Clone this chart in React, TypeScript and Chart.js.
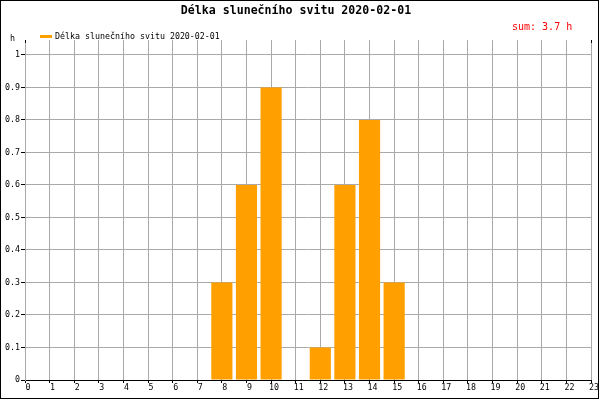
import React, { useEffect, useRef } from "react";
import { Chart, registerables } from "chart.js";

Chart.register(...registerables);

const chartTitle = "Délka slunečního svitu 2020-02-01";
const seriesLabel = "Délka slunečního svitu 2020-02-01";
const hours = [8, 9, 10, 12, 13, 14, 15];
const values = [0.3, 0.6, 0.9, 0.1, 0.6, 0.8, 0.3];
const sumText = "sum: 3.7 h";
const yUnit = "h";

const ORANGE = "#ffa000";
const GRID = "#aaaaaa";
const MONO = "'DejaVu Sans Mono', 'Liberation Mono', monospace";

const decorPlugin = {
  id: "decor",
  afterDraw(chart: any) {
    const ctx = chart.ctx as CanvasRenderingContext2D;
    const area = chart.chartArea;
    ctx.save();
    // border
    ctx.strokeStyle = "#000";
    ctx.lineWidth = 1;
    ctx.strokeRect(0.5, 0.5, 598, 398);
    // title
    ctx.fillStyle = "#000";
    ctx.font = `bold 11.6px ${MONO}`;
    ctx.textAlign = "center";
    ctx.textBaseline = "middle";
    ctx.fillText(chartTitle, 296, 11);
    // legend
    ctx.strokeStyle = ORANGE;
    ctx.lineWidth = 3;
    ctx.beginPath();
    ctx.moveTo(40, 36.5);
    ctx.lineTo(52, 36.5);
    ctx.stroke();
    ctx.fillStyle = "#000";
    ctx.font = `8.3px ${MONO}`;
    ctx.textAlign = "left";
    ctx.fillText(seriesLabel, 55, 36.5);
    // sum
    ctx.fillStyle = "#ff0000";
    ctx.font = `10px ${MONO}`;
    ctx.fillText(sumText, 512, 27);
    // unit
    ctx.fillStyle = "#000";
    ctx.font = `8.3px ${MONO}`;
    ctx.fillText(yUnit, 10, 38.5);
    // black stubs at axis tops
    ctx.strokeStyle = "#000";
    ctx.lineWidth = 1;
    ctx.beginPath();
    ctx.moveTo(Math.round(area.left) + 0.5, area.top);
    ctx.lineTo(Math.round(area.left) + 0.5, area.top + 3);
    ctx.moveTo(Math.round(area.right) + 0.5, area.top);
    ctx.lineTo(Math.round(area.right) + 0.5, area.top + 3);
    ctx.stroke();
    ctx.restore();
  },
};

export default function App() {
  const ref = useRef<HTMLCanvasElement | null>(null);
  useEffect(() => {
    document.body.style.margin = "0";
    if (!ref.current) return;
    const chart = new Chart(ref.current, {
      type: "bar",
      data: {
        datasets: [
          {
            label: seriesLabel,
            data: hours.map((h, i) => ({ x: h, y: values[i] })),
            backgroundColor: ORANGE,
            borderWidth: 0,
            barPercentage: 0.86,
            categoryPercentage: 1,
          },
        ],
      },
      options: {
        animation: false,
        responsive: false,
        devicePixelRatio: 1,
        layout: { padding: { top: 40, right: 9, left: 0, bottom: 0 } },
        plugins: {
          legend: { display: false },
          title: { display: false },
          tooltip: { enabled: false },
        },
        scales: {
          x: {
            type: "linear",
            min: 0,
            max: 23,
            offset: false,
            afterFit: (s: any) => {
              s.height = 20;
            },
            grid: {
              offset: false,
              color: GRID,
              lineWidth: 1,
              tickColor: "#000",
              tickLength: 3,
              drawTicks: true,
            },
            border: { color: "#000", width: 1 },
            ticks: {
              stepSize: 1,
              autoSkip: false,
              maxRotation: 0,
              labelOffset: 3,
              padding: 0,
              color: "#000",
              font: { family: MONO, size: 8.3 },
              callback: (v: any) => String(v),
            },
          },
          y: {
            type: "linear",
            min: 0,
            max: 1.046,
            afterFit: (s: any) => {
              s.width = 25;
            },
            grid: {
              color: GRID,
              lineWidth: 1,
              tickColor: "#000",
              tickLength: 4,
            },
            border: { color: GRID, width: 1 },
            ticks: {
              stepSize: 0.1,
              includeBounds: false,
              padding: 1,
              color: "#000",
              font: { family: MONO, size: 8.3 },
              callback: (v: any) => String(Math.round(Number(v) * 10) / 10),
            },
          },
        },
      },
      plugins: [decorPlugin],
    });
    return () => chart.destroy();
  }, []);
  return (
    <div style={{ position: "absolute", left: 0, top: 0, width: 600, height: 400, background: "#fff" }}>
      <canvas ref={ref} width={600} height={400} style={{ width: 600, height: 400, display: "block" }} />
    </div>
  );
}
